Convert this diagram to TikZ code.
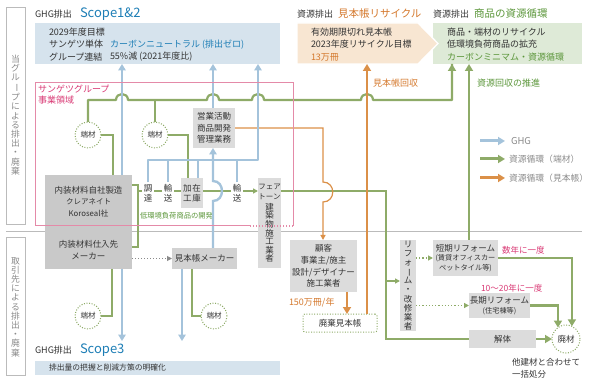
\documentclass[tikz,border=0pt]{standalone}
\usepackage{fontspec}
\setmainfont{Noto Sans CJK JP}
\usetikzlibrary{arrows.meta,calc}
\definecolor{txt}{HTML}{333333}
\definecolor{frame}{HTML}{BBBBBB}
\definecolor{graytxt}{HTML}{8A8A8A}
\definecolor{ghgc}{HTML}{A4C3DB}
\definecolor{scopeblue}{HTML}{1C7DB5}
\definecolor{bluefill}{HTML}{D6E3ED}
\definecolor{oline}{HTML}{DB9048}
\definecolor{otext}{HTML}{D4782C}
\definecolor{ofill}{HTML}{F8E6D2}
\definecolor{gline}{HTML}{8EAB68}
\definecolor{gtext}{HTML}{5B963A}
\definecolor{gfill}{HTML}{DEEAD7}
\definecolor{pinkt}{HTML}{D93A75}
\definecolor{pinkl}{HTML}{E48AA8}
\definecolor{grayA}{HTML}{C9C9C9}
\definecolor{grayB}{HTML}{DCDCDC}
\definecolor{grayC}{HTML}{D2D2D2}
\newcommand{\vbar}{\rotatebox[origin=c]{-90}{ー}}
\begin{document}
\begin{tikzpicture}[x=1pt,y=-1pt,
  every node/.style={inner sep=0pt,outer sep=0pt,text=txt},
  lbl/.style={anchor=west,font=\fontsize{9}{10}\selectfont},
  hdr/.style={anchor=west,font=\fontsize{9}{10}\selectfont},
  vtext/.style={align=center,text=graytxt,font=\fontsize{8.8}{9.2}\selectfont},
  boxA/.style={fill=grayA,align=center,font=\fontsize{8.5}{11.5}\selectfont},
  boxB/.style={fill=grayB,align=center,font=\fontsize{8.5}{11.5}\selectfont},
  plbl/.style={align=center,inner sep=2pt,font=\fontsize{8.5}{10}\selectfont},
  circ/.style={circle,draw=gline,line width=1pt,dash pattern=on 1pt off 1.6pt,fill=white,minimum size=26pt,font=\fontsize{7.5}{8}\selectfont},
  ghg/.style={draw=ghgc,line width=2.4pt,-{Triangle[length=6.5pt,width=7.5pt]}},
  ghgp/.style={draw=ghgc,line width=2.4pt},
  gthick/.style={draw=gline,line width=2.2pt},
  gthin/.style={draw=gline,line width=1.2pt},
  othick/.style={draw=oline,line width=2.6pt},
  othin/.style={draw=oline,line width=1.2pt},
  tipS/.style={-{Triangle[length=5pt,width=5pt]}},
  tipL/.style={-{Triangle[length=7pt,width=8pt]}}
]
\useasboundingbox (0,0) rectangle (600,382);

% ---------- left panels ----------
\node[draw=frame,line width=0.8pt,minimum width=19pt,minimum height=217pt] (lp1) at (15.5,115.5) {};
\node[vtext] (lp1t) at (15.5,115) {当\\グ\\ル\\\vbar\\プ\\に\\よ\\る\\排\\出\\・\\廃\\棄};
\node[draw=frame,line width=0.8pt,minimum width=19pt,minimum height=138pt] (lp2) at (15.5,306) {};
\node[vtext] (lp2t) at (15.5,307) {取\\引\\先\\に\\よ\\る\\排\\出\\・\\廃\\棄};

% separator
\coordinate (sepL) at (6,231);
\coordinate (sepR) at (582,231);
\draw[frame,line width=0.8pt] (sepL) -- (sepR);

% ---------- top boxes ----------
\node[hdr] (h1a) at (35,14) {GHG排出};
\node[anchor=west,text=scopeblue,font=\fontsize{13}{14}\selectfont] (h1b) at (80,14) {Scope1\&2};
\node[fill=bluefill,minimum width=245pt,minimum height=41pt] (scope12) at (157.5,43.5) {};
\node[lbl] (s1) at (49,32) {2029年度目標};
\node[lbl] (s2) at (49,44.5) {サンゲツ単体};
\node[lbl,text=scopeblue] (s2b) at (110,44.5) {カーボンニュートラル (排出ゼロ)};
\node[lbl] (s3) at (49,57) {グループ連結};
\node[lbl] (s3b) at (110,57) {55\%減 (2021年度比)};

\node[hdr] (h2a) at (297,14) {資源排出};
\node[anchor=west,text=otext,font=\fontsize{10.5}{12}\selectfont] (h2b) at (338,14) {見本帳リサイクル};
\node[hdr] (h3a) at (433,14) {資源排出};
\node[anchor=west,text=gtext,font=\fontsize{10.5}{12}\selectfont] (h3b) at (474,14) {商品の資源循環};

\node[fill=gfill,minimum width=149pt,minimum height=41pt] (gbox) at (507.5,43.5) {};
\node[minimum width=121pt,minimum height=41pt] (obox) at (357.5,43.5) {};
\path[fill=ofill,draw=white,line width=1.3pt] (obox.north west) -- (obox.north east) -- (438,43.5) -- (obox.south east) -- (obox.south west) -- cycle;
\node[lbl] (o1) at (311,32) {有効期限切れ見本帳};
\node[lbl] (o2) at (311,44.5) {2023年度リサイクル目標};
\node[lbl,text=otext] (o3) at (311,57) {13万冊};
\node[lbl] (g1) at (447,32) {商品・端材のリサイクル};
\node[lbl] (g2) at (447,44.5) {低環境負荷商品の拡充};
\node[lbl,text=gtext] (g3) at (447,57) {カーボンミニマム・資源循環};

\node[anchor=west,text=otext,font=\fontsize{9}{10}\selectfont] (lab1) at (373,83) {見本帳回収};
\node[anchor=west,text=gtext,font=\fontsize{9}{10}\selectfont] (lab2) at (477,83) {資源回収の推進};

% ---------- legend ----------
\coordinate (lg1a) at (480,141); \coordinate (lg1b) at (505,141);
\coordinate (lg2a) at (480,159); \coordinate (lg2b) at (505,159);
\coordinate (lg3a) at (480,178); \coordinate (lg3b) at (505,178);
\draw[draw=ghgc,line width=3pt,tipL] (lg1a) -- (lg1b);
\draw[draw=gline,line width=3pt,tipL] (lg2a) -- (lg2b);
\draw[draw=oline,line width=3pt,tipL] (lg3a) -- (lg3b);
\node[anchor=west,text=graytxt,font=\fontsize{9.5}{10}\selectfont] (lt1) at (511,141) {GHG};
\node[anchor=west,text=graytxt,font=\fontsize{8.8}{10}\selectfont] (lt2) at (509,159) {資源循環（端材）};
\node[anchor=west,text=graytxt,font=\fontsize{8.8}{10}\selectfont] (lt3) at (509,178) {資源循環（見本帳）};

% ---------- boxes ----------
\node[boxA,minimum width=87pt,minimum height=56pt] (naiso1) at (88.5,203) {};
\node[align=center,font=\fontsize{8.5}{11.5}\selectfont] (naiso1t) at (88.5,201.5) {内装材料自社製造\\{\fontsize{7.5}{11}\selectfont クレアネイト}\\{\fontsize{7.8}{11}\selectfont Koroseal社}};
\node[boxA,minimum width=87pt,minimum height=38pt] (naiso2) at (88.5,250) {内装材料仕入先\\メーカー};
\node[boxB,minimum width=42pt,minimum height=40pt] (eigyo) at (214,128) {営業活動\\商品開発\\管理業務};
\node[boxB,minimum width=22pt,minimum height=30pt,font=\fontsize{8.5}{10}\selectfont] (kako) at (192,193) {加\hspace{1pt}在\\工\hspace{1pt}庫};
\node[boxB,minimum width=23pt,minimum height=90pt] (fair) at (269.5,223) {};
\node[align=center,font=\fontsize{7.5}{9.5}\selectfont] (fairt1) at (269.5,192) {フェア\\トーン};
\node[align=center,font=\fontsize{8.5}{8.6}\selectfont] (fairt2) at (269.5,233) {建\\築\\物\\施\\工\\業\\者};
\node[fill=grayC,minimum width=65pt,minimum height=21pt,font=\fontsize{8.5}{10}\selectfont] (mmaker) at (204.5,258.5) {見本帳メーカー};
\node[boxB,minimum width=67pt,minimum height=52pt,font=\fontsize{8.5}{11.7}\selectfont] (kokyaku) at (323.5,266) {顧客\\事業主/施主\\設計/デザイナー\\施工業者};
\node[draw=gline,line width=1pt,dash pattern=on 1pt off 1.6pt,rounded corners=2pt,fill=white,minimum width=74pt,minimum height=18pt,font=\fontsize{8.5}{10}\selectfont] (haiki) at (340,323) {廃棄見本帳};
\node[boxB,minimum width=16pt,minimum height=91pt,font=\fontsize{8.5}{9.1}\selectfont] (reform) at (408,285.5) {リ\\フ\\ォ\\\vbar\\ム\\・\\改\\修\\業\\者};
\node[boxB,minimum width=65pt,minimum height=36pt,font=\fontsize{8.5}{10}\selectfont] (tanki) at (465.5,258) {短期リフォーム\\[-1pt]{\fontsize{7.2}{9.5}\selectfont (賃貸オフィスカー}\\{\fontsize{7.2}{9.5}\selectfont ペットタイル等)}};
\node[boxB,minimum width=61pt,minimum height=25pt,font=\fontsize{8.5}{10}\selectfont] (choki) at (499.5,305.5) {長期リフォーム\\{\fontsize{7.2}{9}\selectfont (住宅棟等)}};
\node[boxB,minimum width=67pt,minimum height=18pt,font=\fontsize{8.5}{10}\selectfont] (kaitai) at (502.5,339) {解体};
\node[circ,minimum size=28pt,font=\fontsize{8.5}{9}\selectfont] (haizai) at (566,339) {廃材};

\node[anchor=west,text=pinkt,font=\fontsize{8.5}{10}\selectfont] (freq1) at (502,250) {数年に一度};
\node[anchor=west,text=pinkt,font=\fontsize{8.5}{10}\selectfont] (freq2) at (481,288) {10〜20年に一度};
\node[anchor=west,font=\fontsize{8.5}{12}\selectfont,align=left] (note) at (512,368) {他建材と合わせて\\一括処分};
\node[anchor=west,text=otext,font=\fontsize{9}{10}\selectfont] (cnt) at (289,303) {150万冊/年};

% process labels
\node[plbl] (chotatsu) at (148,193) {調\\達};
\node[plbl] (yuso1) at (168,193) {輸\\送};
\node[plbl] (yuso2) at (237,193) {輸\\送};
\node[anchor=west,text=gtext,font=\fontsize{7.3}{8}\selectfont] (teikan) at (140,216) {低環境負荷商品の開発};

% scope 3
\node[hdr] (h4a) at (35,350) {GHG排出};
\node[anchor=west,text=scopeblue,font=\fontsize{13}{14}\selectfont] (h4b) at (80,350) {Scope3};
\node[fill=bluefill,minimum width=245pt,minimum height=14pt] (scope3) at (157.5,368) {};
\node[anchor=west,font=\fontsize{7.8}{9}\selectfont] (s3t) at (49,368) {排出量の把握と削減方策の明確化};

% circles
\node[circ] (c1) at (88,135) {端材};
\node[circ] (c2) at (155,135) {端材};
\node[circ] (c3) at (88,316) {端材};
\node[circ] (c4) at (214,316) {端材};

% ---------- coordinates ----------
\coordinate (gl) at (0,100);
\coordinate (gp) at (0,191);
\coordinate (bus) at (258,160);
\coordinate (b122) at (122,0);
\coordinate (b182) at (182,0);
\coordinate (b213) at (213,0);
\coordinate (b198) at (198,0);
\coordinate (s3top) at (0,341);
\coordinate (o323) at (323,0);
\coordinate (o347) at (347,0);
\coordinate (o367) at (367,0);
\coordinate (g386) at (386,0);
\coordinate (g452) at (452,0);
\coordinate (g469) at (469,0);

% ---------- green connectors ----------
\draw[gthick,line join=round] (c1.north) -- (c1.north |- gl) -- (116,100)
  .. controls (116,92) and (128,92) .. (128,100) -- (207,100)
  .. controls (207,92) and (219,92) .. (219,100) -- (252,100)
  .. controls (252,92) and (264,92) .. (264,100) -- (361,100)
  .. controls (361,92) and (373,92) .. (373,100) -- (g452 |- gl) -- (g452 |- gbox.south);
\draw[gthick,tipL] ($(g452 |- gbox.south)+(0,8)$) -- (g452 |- gbox.south);
\draw[gthick] (c2.north) -- (c2.north |- gl);
\draw[gthick] (c1.east) -| (113,175);
\draw[gthick] (c2.east) -| (kako.north -| 188,0);
\draw[gthick] (c3.east) -| (naiso2.south -| 112,0);
\draw[gthick] (c4.west) -| (mmaker.south -| 192,0);

\draw[gthin] (naiso1.east |- 0,185) -| (138,247) -- (naiso2.east |- 0,247);
\draw[gthin] (138,191) -- (chotatsu.west |- gp);
\draw[gthin] (chotatsu.east |- gp) -- (yuso1.west |- gp);
\draw[gthin] (yuso1.east |- gp) -- (kako.west |- gp);
\draw[gthin] (kako.east |- gp) -- (yuso2.west |- gp);
\draw[gthin,tipS] (yuso2.east |- gp) -- (fair.west |- gp);
\draw[gthin] (fair.east |- gp) -- (g386 |- gp) -- (g386 |- kaitai.west) -- (kaitai.west);
\draw[gthin,tipS] (g386 |- 0,281) -- (reform.west |- 0,281);
\draw[gthin,dotted,line width=1.3pt,tipS] (reform.east |- tanki.west) -- (tanki.west);
\draw[gthin,dotted,line width=1.3pt,tipS] (reform.east |- choki.west) -- (choki.west);

\draw[gthick,tipL] (tanki.east) -| (haizai.65);
\draw[gthick,tipL] (choki.east) -| (haizai.125);
\draw[gthick,tipL] (kaitai.east) -- (haizai.west);
\draw[gthick,tipL] (g469 |- tanki.north) -- (g469 |- gbox.south);

% ---------- orange connectors ----------
\draw[othin,tipS] (eigyo.east) -- (o323 |- eigyo.east) -- (323,182)
  .. controls (336,182) and (336,202) .. (323,202) -- (o323 |- kokyaku.north);
\draw[othick,tipL] (o347 |- kokyaku.south) -- (o347 |- haiki.north);
\draw[othick,tipL] (o367 |- haiki.north) -- (o367 |- obox.south);

% ---------- blue connectors ----------
\draw[ghg] (b122 |- naiso1.north) -- (b122 |- scope12.south);
\draw[ghg] (b213 |- eigyo.north) -- (b213 |- scope12.south);
\draw[ghgp] (yuso1.north) -- (yuso1.north |- bus);
\draw[ghgp] (b198 |- kako.north) -- (b198 |- bus);
\draw[ghgp] (yuso2.north) -- (yuso2.north |- bus);
\draw[ghg,line join=round] (chotatsu.north) |- (bus) -- (bus |- scope12.south);
\draw[ghg] (b213 |- mmaker.north) -- (213,201)
  .. controls (225,201) and (225,181) .. (213,181) -- (b213 |- eigyo.south);
\draw[ghg] (b122 |- naiso2.south) -- (b122 |- s3top);
\draw[ghg] (b182 |- mmaker.south) -- (b182 |- s3top);

% gray dotted
\draw[draw=graytxt,line width=1pt,dotted,tipS] (naiso2.east |- mmaker.west) -- (mmaker.west);

% ---------- pink frame ----------
\coordinate (p1) at (35,83);
\coordinate (p2) at (293,83);
\coordinate (p3) at (293,226);
\coordinate (p4) at (250,226);
\coordinate (p5) at (35,226);
\draw[pinkl,line width=1pt] (p4) -- (p5) -- (p1) -- (p2) -- (p3);
\draw[pinkl,line width=1.2pt,dash pattern=on 1.2pt off 1.8pt] (p3) -- (p4);
\node[anchor=north west,align=left,text=pinkt,font=\fontsize{9}{11}\selectfont] (plab) at (38,85) {サンゲツグループ\\事業領域};
\end{tikzpicture}
\end{document}
